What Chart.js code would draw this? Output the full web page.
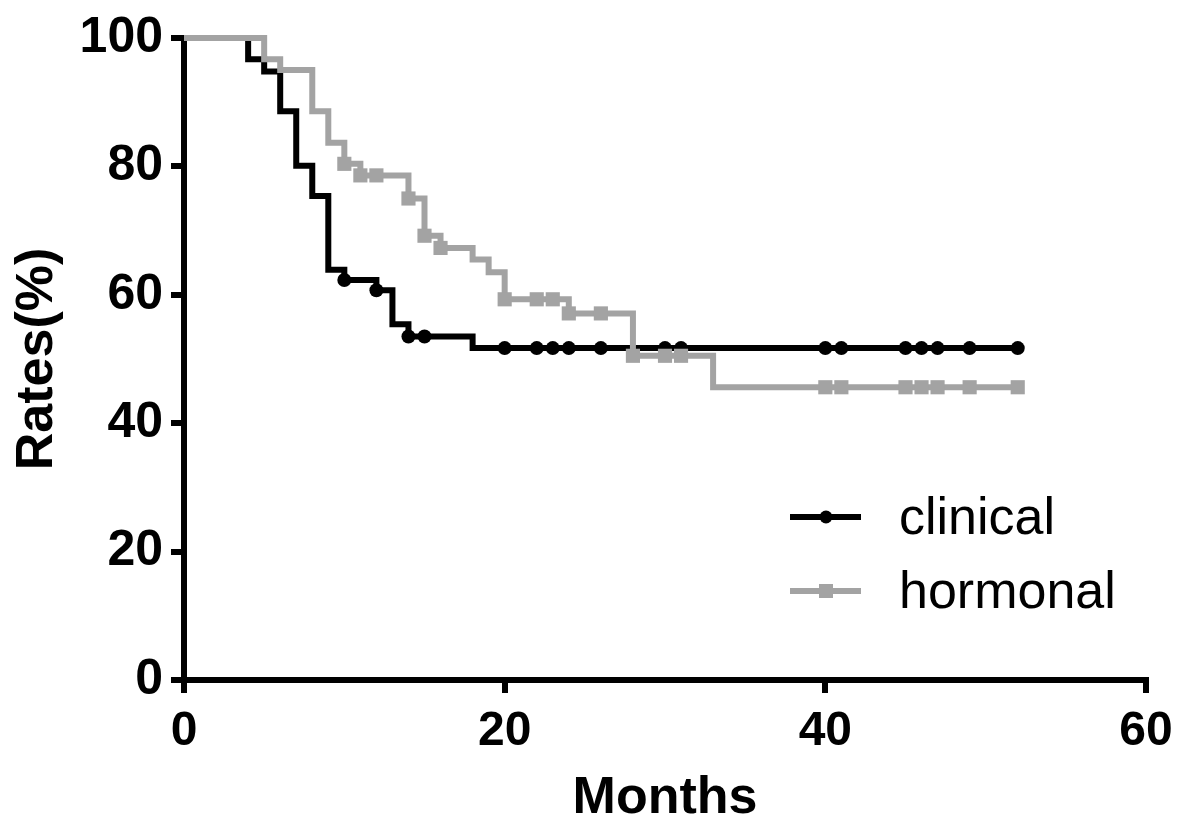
<!DOCTYPE html>
<html>
<head>
<meta charset="utf-8">
<title>Rates by months</title>
<script src="https://cdn.jsdelivr.net/npm/chart.js@4"></script>
<style>
  html, body { margin: 0; padding: 0; background: #fff; }
  canvas { display: block; }
</style>
</head>
<body>
<canvas id="kmChart" width="1200" height="830"></canvas>
<script>
// Curva "clinical" (meses, taxa %, censurado 1/0)
const clinicalMonths = [0, 4, 5, 6, 7, 8, 9, 10, 12, 13, 14, 15, 18, 20, 22, 23, 24, 26, 30, 31, 40, 41, 45, 46, 47, 49, 52];
const clinicalRates = [100, 96.7, 94.8, 88.6, 80.1, 75.4, 63.9, 62.3, 60.7, 55.4, 53.5, 53.5, 51.7, 51.7, 51.7, 51.7, 51.7, 51.7, 51.7, 51.7, 51.7, 51.7, 51.7, 51.7, 51.7, 51.7, 51.7];
const clinicalCensored = [0, 0, 0, 0, 0, 0, 0, 1, 1, 0, 1, 1, 0, 1, 1, 1, 1, 1, 1, 1, 1, 1, 1, 1, 1, 1, 1];

// Curva "hormonal"
const hormonalMonths = [0, 5, 6, 8, 9, 10, 11, 12, 14, 15, 16, 18, 19, 20, 22, 23, 24, 26, 28, 30, 31, 33, 40, 41, 45, 46, 47, 49, 52];
const hormonalRates = [100, 96.7, 95.0, 88.6, 83.7, 80.4, 78.6, 78.6, 75.0, 69.2, 67.3, 65.5, 63.5, 59.3, 59.3, 59.3, 57.1, 57.1, 50.5, 50.5, 50.5, 45.6, 45.6, 45.6, 45.6, 45.6, 45.6, 45.6, 45.6];
const hormonalCensored = [0, 0, 0, 0, 0, 1, 1, 1, 1, 1, 1, 0, 0, 1, 1, 1, 1, 1, 1, 1, 1, 0, 1, 1, 1, 1, 1, 1, 1];

// Eixos
const xTicks = [0, 20, 40, 60];
const yTicks = [0, 20, 40, 60, 80, 100];
const seriesNames = ["clinical", "hormonal"];

const FONT = "'Liberation Sans', Arial, Helvetica, sans-serif";
const BLACK = "#000000";
const GREY = "#a3a3a3";

function toPoints(months, rates) {
    return months.map((m, i) => ({ x: m, y: rates[i] }));
}

// Legenda desenhada dentro da área do gráfico
const legendPlugin = {
    id: "kmLegend",
    afterDraw(chart) {
        const ctx = chart.ctx;
        const items = [
            { name: seriesNames[0], color: BLACK, style: "circle", y: 517 },
            { name: seriesNames[1], color: GREY, style: "rect", y: 591 },
        ];
        ctx.save();
        items.forEach((it) => {
            ctx.strokeStyle = it.color;
            ctx.fillStyle = it.color;
            ctx.lineWidth = 6;
            ctx.beginPath();
            ctx.moveTo(790, it.y);
            ctx.lineTo(861, it.y);
            ctx.stroke();
            if (it.style === "circle") {
                ctx.beginPath();
                ctx.arc(826, it.y, 6.5, 0, Math.PI * 2);
                ctx.fill();
            } else {
                ctx.fillRect(819, it.y - 7, 14, 14);
            }
            ctx.fillStyle = "#000";
            ctx.font = "52px " + FONT;
            ctx.textBaseline = "alphabetic";
            ctx.textAlign = "left";
            ctx.fillText(it.name, 899, it.y + 17);
        });
        ctx.restore();
    },
};

const config = {
    type: "line",
    data: {
        datasets: [
            {
                label: seriesNames[0],
                data: toPoints(clinicalMonths, clinicalRates),
                borderColor: BLACK,
                backgroundColor: BLACK,
                borderWidth: 6,
                stepped: "before",
                pointStyle: "circle",
                pointRadius: (c) => (clinicalCensored[c.dataIndex] ? 7 : 0),
                pointBorderWidth: 0,
                clip: false,
                order: 1,
            },
            {
                label: seriesNames[1],
                data: toPoints(hormonalMonths, hormonalRates),
                borderColor: GREY,
                backgroundColor: GREY,
                borderWidth: 6,
                stepped: "before",
                pointStyle: "rect",
                pointRadius: (c) => (hormonalCensored[c.dataIndex] ? 10 : 0),
                pointBorderWidth: 0,
                clip: false,
                order: 0,
            },
        ],
    },
    options: {
        responsive: false,
        animation: false,
        devicePixelRatio: 1,
        layout: { padding: { left: 0, right: 54, top: 37, bottom: 0 } },
        plugins: {
            legend: { display: false },
            tooltip: { enabled: false },
        },
        scales: {
            x: {
                type: "linear",
                min: 0,
                max: 60,
                afterBuildTicks: (s) => { s.ticks = xTicks.map((v) => ({ value: v })); },
                afterFit: (s) => { s.height = 150; },
                border: { display: true, color: BLACK, width: 6 },
                grid: { drawOnChartArea: false, drawTicks: true, tickLength: 13, color: BLACK, lineWidth: 6 },
                ticks: {
                    color: BLACK,
                    padding: 10,
                    maxRotation: 0,
                    font: { family: FONT, size: 48, weight: "bold" },
                },
                title: {
                    display: true,
                    text: "Months",
                    color: BLACK,
                    padding: { top: 0, bottom: 0 },
                    font: { family: FONT, size: 52, weight: "bold", lineHeight: 1.2 },
                },
            },
            y: {
                type: "linear",
                min: 0,
                max: 100,
                afterBuildTicks: (s) => { s.ticks = yTicks.map((v) => ({ value: v })); },
                afterFit: (s) => { s.width = 184; },
                border: { display: true, color: BLACK, width: 6 },
                grid: { drawOnChartArea: false, drawTicks: true, tickLength: 13, color: BLACK, lineWidth: 6 },
                ticks: {
                    color: BLACK,
                    padding: 8,
                    font: { family: FONT, size: 50, weight: "bold" },
                },
                title: {
                    display: true,
                    text: "Rates(%)",
                    color: BLACK,
                    padding: { top: 6, bottom: 0 },
                    font: { family: FONT, size: 52, weight: "bold", lineHeight: 1.2 },
                },
            },
        },
    },
    plugins: [legendPlugin],
};

new Chart(document.getElementById("kmChart").getContext("2d"), config);
</script>
</body>
</html>
